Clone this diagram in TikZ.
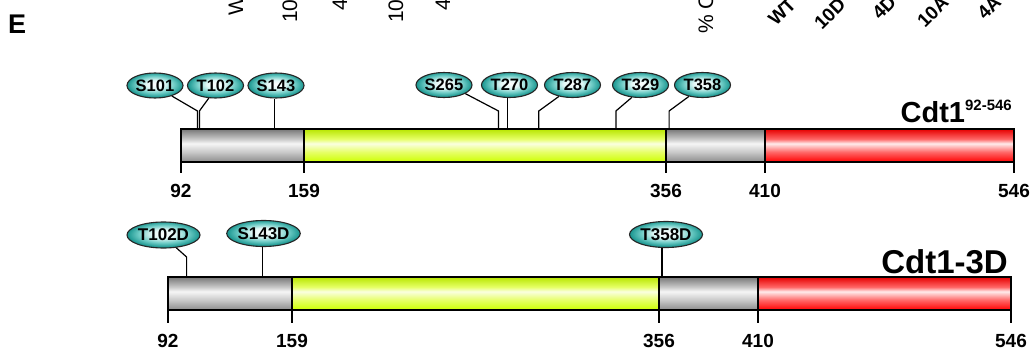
\documentclass[tikz,border=0pt]{standalone}
\usepackage{fontspec}
\setmainfont{Liberation Sans}
\usetikzlibrary{shapes.geometric}

% colours of the domain bars and the phospho-site balls
\definecolor{greyE}{HTML}{8C8C8C}
\definecolor{greyM}{HTML}{C8C8C8}
\definecolor{greyL}{HTML}{F6F6F6}
\definecolor{limeE}{HTML}{CCFF00}
\definecolor{limeM}{HTML}{E6FF66}
\definecolor{limeL}{HTML}{FAFFE0}
\definecolor{redE}{HTML}{FF0000}
\definecolor{redM}{HTML}{FF6666}
\definecolor{redL}{HTML}{FFECEC}
\definecolor{tealD}{HTML}{17948E}
\definecolor{tealM}{HTML}{6FCCC6}
\definecolor{tealL}{HTML}{E4F8F6}

% tube-like vertical shadings (path box spans 25bp..75bp)
\pgfdeclareverticalshading{greybar}{100bp}{color(0bp)=(greyE); color(25bp)=(greyE);
  color(40bp)=(greyM); color(53bp)=(greyL); color(60bp)=(greyM); color(75bp)=(greyE!85!black); color(100bp)=(greyE)}
\pgfdeclareverticalshading{limebar}{100bp}{color(0bp)=(limeE); color(25bp)=(limeE);
  color(40bp)=(limeM); color(53bp)=(limeL); color(60bp)=(limeM); color(75bp)=(limeE!90!black); color(100bp)=(limeE)}
\pgfdeclareverticalshading{redbar}{100bp}{color(0bp)=(redE); color(25bp)=(redE);
  color(40bp)=(redM); color(53bp)=(redL); color(60bp)=(redM); color(75bp)=(redE!90!black); color(100bp)=(redE)}
\pgfdeclareradialshading{tealball}{\pgfpoint{0bp}{3bp}}{color(0bp)=(white); color(8bp)=(tealL);
  color(17bp)=(tealM); color(25bp)=(tealD); color(50bp)=(tealD)}

\tikzset{
  site/.style={ellipse, draw=black!85, line width=1.1pt, shading=tealball,
    minimum width=56pt, minimum height=25pt, inner sep=0pt,
    font=\bfseries\fontsize{16.5}{17}\selectfont},
  sited/.style={site, minimum width=73pt, minimum height=26pt,
    font=\bfseries\fontsize{17}{17}\selectfont},
  link/.style={line width=1.2pt, black},
  outline/.style={line width=1.5pt, black},
  num/.style={anchor=base, inner sep=0pt, font=\bfseries\fontsize{19}{19}\selectfont},
  title/.style={anchor=base east, inner sep=0pt, font=\bfseries\fontsize{29}{30}\selectfont},
  lane/.style={rotate=90, anchor=base west, inner sep=0pt, font=\fontsize{21}{21}\selectfont},
  tilt/.style={rotate=45, anchor=base west, inner sep=0pt, font=\bfseries\fontsize{19}{19}\selectfont}
}

\begin{document}
\begin{tikzpicture}[x=1pt, y=1pt]
\useasboundingbox (0,0) rectangle (1033,-350);
\clip (0,0) rectangle (1033,-350);

% panel letter and lane labels of the blot above
\node[anchor=base west, inner sep=0pt, font=\bfseries\fontsize{27}{27}\selectfont] (panel) at (8,-34) {E};
\node[lane] (l1) at (243,-16) {WT};
\node[lane] (l2) at (297,-23) {10D};
\node[lane] (l3) at (347,-11) {4D};
\node[lane] (l4) at (403,-23) {10A};
\node[lane] (l5) at (450,-11) {4A};
\node[lane] (l6) at (713,-34) {\% C};
\node[tilt] (d1) at (776,-27) {WT};
\node[tilt] (d2) at (822,-31) {10D};
\node[tilt] (d3) at (880,-21) {4D};
\node[tilt] (d4) at (925,-29) {10A};
\node[tilt] (d5) at (985,-21) {4A};

% ---------------- Cdt1 92-546 ----------------
\shade[shading=greybar] (181,-129) rectangle (304,-162);
\shade[shading=limebar] (304,-129) rectangle (666,-162);
\shade[shading=greybar] (666,-129) rectangle (765,-162);
\shade[shading=redbar]  (765,-129) rectangle (1014,-162);
\draw[outline] (181,-129) rectangle (1014,-162);
\foreach \x/\v in {181/92, 304/159, 666/356, 765/410, 1014/546}{
  \draw[outline] (\x,-129) -- (\x,-173);
  \node[num] at (\x,-197) {\v};
}
\node[title] (t1) at (1012,-123) {Cdt1{\fontsize{15}{15}\selectfont\raisebox{12pt}{92-546}}};

% sites on the top bar
\coordinate (p101) at (197.5,-129);
\coordinate (p102) at (199.4,-129);
\coordinate (p143) at (274.6,-129);
\coordinate (p265) at (498.5,-129);
\coordinate (p270) at (507.6,-129);
\coordinate (p287) at (538.8,-129);
\coordinate (p329) at (615.9,-129);
\coordinate (p358) at (669.1,-129);
\coordinate (kt) at (0,-111);

\node[site] (S101) at (155,-85.5) {S101};
\node[site] (T102) at (215.5,-85.5) {T102};
\node[site] (S143) at (276,-85.5) {S143};
\node[site] (S265) at (444,-85) {S265};
\node[site] (T270) at (509.5,-85) {T270};
\node[site] (T287) at (572.5,-85) {T287};
\node[site] (T329) at (640.5,-85) {T329};
\node[site] (T358) at (702.5,-85) {T358};

\draw[link] (S101.-32)  -- (p101 |- kt) -- (p101);
\draw[link] (T102.-118) -- (p102 |- kt) -- (p102);
\draw[link] (p143) -- (p143 |- S143.south);
\draw[link] (S265.-22)  -- (p265 |- kt) -- (p265);
\draw[link] (p270) -- (p270 |- T270.south);
\draw[link] (T287.-140) -- (p287 |- kt) -- (p287);
\draw[link] (T329.-125) -- (p329 |- kt) -- (p329);
\draw[link] (T358.-140) -- (p358 |- kt) -- (p358);

% ---------------- Cdt1-3D ----------------
\shade[shading=greybar] (168,-277) rectangle (292,-310);
\shade[shading=limebar] (292,-277) rectangle (659,-310);
\shade[shading=greybar] (659,-277) rectangle (758,-310);
\shade[shading=redbar]  (758,-277) rectangle (1011,-310);
\draw[outline] (168,-277) rectangle (1011,-310);
\foreach \x/\v in {168/92, 292/159, 659/356, 758/410, 1011/546}{
  \draw[outline] (\x,-277) -- (\x,-323);
  \node[num] at (\x,-347) {\v};
}
\node[title, font=\bfseries\fontsize{33}{34}\selectfont] (t2) at (1008,-273) {Cdt1-3D};

\coordinate (q102) at (186.6,-277);
\coordinate (q143) at (262.7,-277);
\coordinate (q358) at (662,-277);
\coordinate (kb) at (0,-257);

\node[sited] (T102D) at (163.5,-235) {T102D};
\node[sited] (S143D) at (263.5,-233.5) {S143D};
\node[sited] (T358D) at (666,-234.5) {T358D};

\draw[link] (T102D.-45) -- (q102 |- kb) -- (q102);
\draw[link] (q143) -- (q143 |- S143D.south);
\draw[link] (q358) -- (q358 |- T358D.south);
\end{tikzpicture}
\end{document}
